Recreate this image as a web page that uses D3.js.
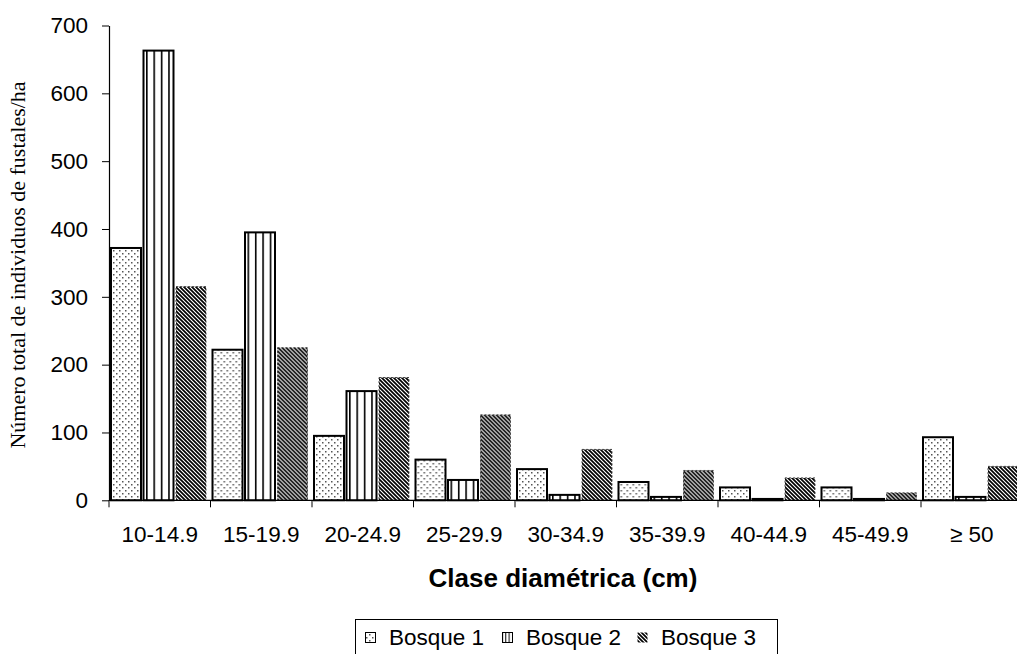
<!DOCTYPE html>
<html>
<head>
<meta charset="utf-8">
<script src="https://cdn.jsdelivr.net/npm/d3@7"></script>
<style>
  html, body { margin: 0; padding: 0; background: #fff; }
  svg { display: block; }
</style>
</head>
<body>
<svg id="chart" width="1017" height="654"></svg>
<script>
const categories = ["10-14.9", "15-19.9", "20-24.9", "25-29.9", "30-34.9", "35-39.9", "40-44.9", "45-49.9", "≥ 50"];
const seriesNames = ["Bosque 1", "Bosque 2", "Bosque 3"];
const bosque1 = [372, 222, 95, 60, 46, 27, 19, 19, 93];
const bosque2 = [663, 395, 161, 30, 8, 5, 2, 2, 5];
const bosque3 = [315, 225, 181, 126, 75, 44, 33, 11, 50];
const yTicks = [0, 100, 200, 300, 400, 500, 600, 700];
const xTitle = "Clase diamétrica (cm)";
const yTitle = "Número total de individuos de fustales/ha";

const seriesValues = [bosque1, bosque2, bosque3];
const data = categories.map((c, i) => ({
  cat: c,
  vals: seriesNames.map((s, j) => ({ s, j, v: seriesValues[j][i] }))
}));

const svg = d3.select("#chart");
const defs = svg.append("defs");

// Pattern: dots (Bosque 1)
const p1 = defs.append("pattern").attr("id", "pat1").attr("patternUnits", "userSpaceOnUse")
  .attr("width", 6).attr("height", 6);
p1.append("rect").attr("width", 6).attr("height", 6).attr("fill", "#fff");
p1.append("rect").attr("x", 1).attr("y", 1).attr("width", 1.5).attr("height", 1.5).attr("fill", "#555");
p1.append("rect").attr("x", 4).attr("y", 4).attr("width", 1.5).attr("height", 1.5).attr("fill", "#555");

// Pattern: vertical stripes (Bosque 2)
const p2 = defs.append("pattern").attr("id", "pat2").attr("patternUnits", "userSpaceOnUse")
  .attr("width", 7.4).attr("height", 10);
p2.append("rect").attr("width", 7.4).attr("height", 10).attr("fill", "#fff");
p2.append("rect").attr("x", 0).attr("width", 1.6).attr("height", 10).attr("fill", "#000");

// Legend pattern: vertical stripes, tighter
const p2l = defs.append("pattern").attr("id", "pat2l").attr("patternUnits", "userSpaceOnUse")
  .attr("width", 3.3).attr("height", 10);
p2l.append("rect").attr("width", 3.3).attr("height", 10).attr("fill", "#fff");
p2l.append("rect").attr("x", 0).attr("width", 1).attr("height", 10).attr("fill", "#000");

// Pattern: diagonal stripes (Bosque 3)
const p3 = defs.append("pattern").attr("id", "pat3").attr("patternUnits", "userSpaceOnUse")
  .attr("width", 4).attr("height", 4);
p3.append("rect").attr("width", 4).attr("height", 4).attr("fill", "#fff");
p3.append("path").attr("d", "M-1,-1 L5,5 M-1,3 L1,5 M3,-1 L5,1")
  .attr("stroke", "#000").attr("stroke-width", 1.7);

const patFor = ["url(#pat1)", "url(#pat2)", "url(#pat3)"];
const legPatFor = ["url(#pat1)", "url(#pat2l)", "url(#pat3)"];

const x0 = d3.scaleBand().domain(categories).range([109, 1022.5]).padding(0);
const x1 = d3.scaleBand().domain(seriesNames).range([2, 97]).paddingInner(0.077).paddingOuter(0);
const y = d3.scaleLinear().domain([0, 700]).range([500.3, 25.5]);

const sans = "Liberation Sans, Arial, sans-serif";

// Bars
const groups = svg.append("g").selectAll("g").data(data).join("g")
  .attr("transform", d => `translate(${x0(d.cat)},0)`);
groups.selectAll("rect").data(d => d.vals).join("rect")
  .attr("x", d => x1(d.s))
  .attr("y", d => y(d.v))
  .attr("width", x1.bandwidth())
  .attr("height", d => y(0) - y(d.v))
  .attr("fill", d => patFor[d.j])
  .attr("stroke", d => d.j === 2 ? "#444" : "#000")
  .attr("stroke-width", d => d.j === 2 ? 1 : 2)
  .attr("stroke-dasharray", d => d.j === 2 ? "2,2" : null);

// Y axis
const yAxis = d3.axisLeft(y).tickValues(yTicks).tickSize(7).tickPadding(14).tickSizeOuter(0);
const gy = svg.append("g").attr("transform", "translate(109,0)").call(yAxis);
gy.select(".domain").attr("stroke", "#000").attr("stroke-width", 1.2);
gy.selectAll(".tick line").attr("stroke", "#000");
gy.selectAll(".tick text").attr("font-family", sans)
  .attr("font-size", 22.5).attr("fill", "#000");

// X axis: baseline + boundary ticks + centered labels
const gx = svg.append("g");
gx.append("line").attr("x1", 109).attr("x2", 1017).attr("y1", y(0)).attr("y2", y(0))
  .attr("stroke", "#000").attr("stroke-width", 1.2);
gx.selectAll("line.bt").data(categories).join("line").attr("class", "bt")
  .attr("x1", d => x0(d)).attr("x2", d => x0(d))
  .attr("y1", y(0)).attr("y2", y(0) + 7).attr("stroke", "#000");
gx.selectAll("text").data(categories).join("text")
  .attr("x", d => x0(d) + x0.bandwidth() / 2)
  .attr("y", 542)
  .attr("text-anchor", "middle")
  .attr("font-family", sans)
  .attr("font-size", 22.5)
  .attr("fill", "#000")
  .text(d => d);

// Axis titles
svg.append("text").attr("x", 563).attr("y", 587).attr("text-anchor", "middle")
  .attr("font-family", sans).attr("font-size", 26)
  .attr("font-weight", "bold").attr("fill", "#000").text(xTitle);

svg.append("text").attr("transform", "translate(25,265) rotate(-90)").attr("text-anchor", "middle")
  .attr("font-family", "Liberation Serif, Times New Roman, serif").attr("font-size", 22)
  .attr("fill", "#000").text(yTitle);

// Legend
const lg = svg.append("g");
lg.append("rect").attr("x", 355.5).attr("y", 619.5).attr("width", 422).attr("height", 40)
  .attr("fill", "#fff").attr("stroke", "#000").attr("stroke-width", 1);
const legX = [365, 502, 637];
const items = lg.selectAll("g.item").data(seriesNames).join("g").attr("class", "item")
  .attr("transform", (d, i) => `translate(${legX[i]},0)`);
items.append("rect").attr("x", 0.5).attr("y", 632.5).attr("width", 10).attr("height", 10)
  .attr("fill", (d, i) => legPatFor[i]).attr("stroke", (d, i) => i === 2 ? "none" : "#000").attr("stroke-width", 1);
items.append("text").attr("x", 24).attr("y", 645)
  .attr("font-family", sans).attr("font-size", 22.5)
  .attr("fill", "#000").text(d => d);
</script>
</body>
</html>
